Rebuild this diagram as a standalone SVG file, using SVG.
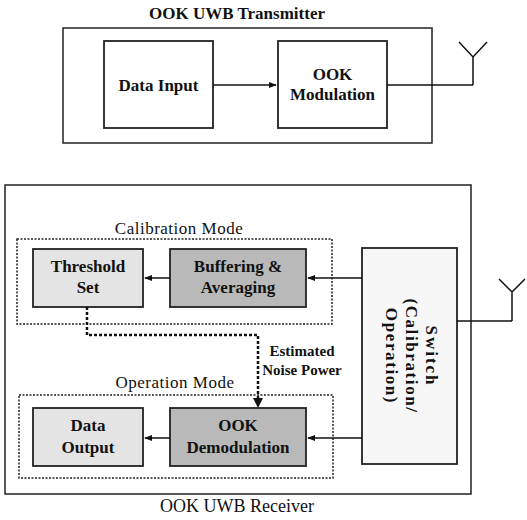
<svg xmlns="http://www.w3.org/2000/svg" width="527" height="520" viewBox="0 0 527 520">
<defs>
<style>
.frame{fill:#fff;stroke:#222;stroke-width:1.5}
.box{stroke:#222;stroke-width:1.8}
.light{fill:#e4e4e4}
.dark{fill:#b9b9b9}
.white{fill:#fff}
.mode{fill:none;stroke:#222;stroke-width:1.5;stroke-dasharray:2 1.5}
.line{fill:none;stroke:#111;stroke-width:1.5}
.dash{fill:none;stroke:#111;stroke-width:2.5;stroke-dasharray:3 2}
.t{font-family:"Liberation Serif","Times New Roman",serif;fill:#111;text-anchor:middle}
.b{font-weight:bold;font-size:17px}
.r{font-size:17px}
.s{font-weight:bold;font-size:15px}
</style>
<marker id="ah" viewBox="0 0 10 10" refX="9" refY="5" markerWidth="8" markerHeight="8" markerUnits="userSpaceOnUse" orient="auto">
<path d="M0,1 L10,5 L0,9 z" fill="#111"/>
</marker>
</defs>
<rect width="527" height="520" fill="#fff"/>

<g id="transmitter">
<text class="t b" x="237" y="19">OOK UWB Transmitter</text>
<rect class="frame" x="63" y="28" width="369" height="115"/>
</g>
<g id="receiver">
<rect class="frame" x="5" y="185" width="466" height="309"/>
<text class="t r" x="237" y="512" style="font-size:18px">OOK UWB Receiver</text>
</g>
<g id="calibration-mode">
<rect class="mode" x="17" y="239" width="315" height="85"/>
<text class="t r" x="179" y="234" letter-spacing="0.5">Calibration Mode</text>
</g>
<g id="operation-mode">
<rect class="mode" x="19" y="395" width="314" height="83"/>
<text class="t r" x="175" y="388" letter-spacing="0.5">Operation Mode</text>
</g>

<g id="data-input">
<rect class="box white" x="104" y="41" width="109" height="87"/>
<text class="t b" x="158.5" y="91">Data Input</text>
</g>
<g id="ook-modulation">
<rect class="box white" x="278" y="41" width="109" height="87"/>
<text class="t b" x="332.5" y="80">OOK</text>
<text class="t b" x="332.5" y="100">Modulation</text>
</g>
<g id="threshold-set">
<rect class="box light" x="33" y="249" width="110" height="58"/>
<text class="t b" x="88" y="272">Threshold</text>
<text class="t b" x="88" y="293">Set</text>
</g>
<g id="buffering-averaging">
<rect class="box dark" x="170" y="249" width="136" height="58"/>
<text class="t b" x="238" y="272">Buffering &amp;</text>
<text class="t b" x="238" y="293">Averaging</text>
</g>
<g id="data-output">
<rect class="box light" x="33" y="408" width="110" height="58"/>
<text class="t b" x="88" y="431">Data</text>
<text class="t b" x="88" y="453">Output</text>
</g>
<g id="ook-demodulation">
<rect class="box dark" x="170" y="408" width="136" height="58"/>
<text class="t b" x="238" y="431">OOK</text>
<text class="t b" x="238" y="453">Demodulation</text>
</g>
<g id="switch">
<rect class="box" fill="#f7f7f7" x="362" y="248" width="95" height="216"/>
<g transform="translate(409.5,356) rotate(90)">
<text class="t b" x="0" y="-16" letter-spacing="2">Switch</text>
<text class="t b" x="0" y="4" letter-spacing="1.6">(Calibration/</text>
<text class="t b" x="0" y="24" letter-spacing="1.6">Operation)</text>
</g>
</g>
<g id="tx-antenna">
<path class="line" d="M473,85 V57 M459,42 L473,57 L487,42"/>
</g>
<g id="rx-antenna">
<path class="line" d="M512,321 V292 M499,279 L512,292 L525,279"/>
</g>

<g id="connectors">
<path class="line" d="M213,85 H276" marker-end="url(#ah)"/>
<path class="line" d="M387,85 H473"/>
<path class="line" d="M457,321 H512"/>
<path class="line" d="M362,278 H308" marker-end="url(#ah)"/>
<path class="line" d="M170,278 H145" marker-end="url(#ah)"/>
<path class="line" d="M362,438 H308" marker-end="url(#ah)"/>
<path class="line" d="M170,438 H145" marker-end="url(#ah)"/>
<path class="dash" d="M87,307 V335 H258 V400"/>
<path d="M253,398 L258,408 L263,398 z" fill="#111"/>
<text class="t s" x="302" y="356">Estimated</text>
<text class="t s" x="302" y="375">Noise Power</text>
</g>
</svg>
